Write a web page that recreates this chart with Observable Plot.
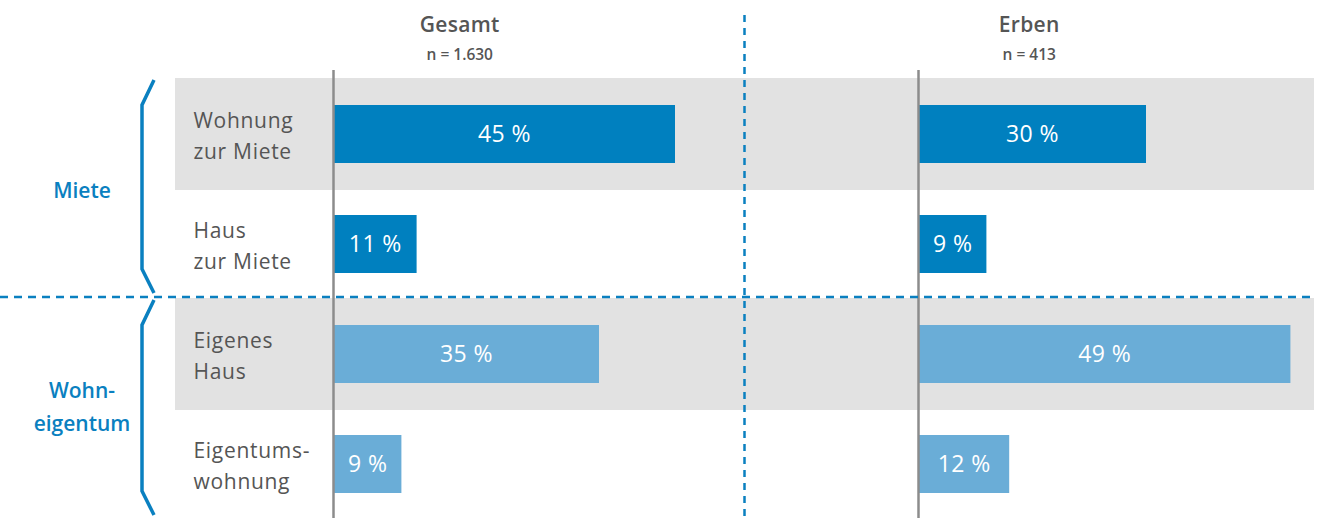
<!DOCTYPE html>
<html><head><meta charset="utf-8">
<script src="https://cdn.jsdelivr.net/npm/d3@7"></script>
<script src="https://cdn.jsdelivr.net/npm/@observablehq/plot@0.6"></script>
<style>
body{margin:0;background:#fff;}
#chart{position:relative;width:1319px;height:519px;}
#chart svg{overflow:visible;}
</style>
</head><body><div id="chart"></div>
<script>
// ---- data ----
const panels = ["Gesamt", "Erben"];
const panelNotes = ["n = 1.630", "n = 413"];
const categories = ["Wohnung zur Miete", "Haus zur Miete", "Eigenes Haus", "Eigentumswohnung"];
const categoryLabels = ["Wohnung\nzur Miete", "Haus\nzur Miete", "Eigenes\nHaus", "Eigentums-\nwohnung"];
const categoryGroups = ["Miete", "Miete", "Wohneigentum", "Wohneigentum"];
const groups = ["Miete", "Wohneigentum"];
const groupLabels = ["Miete", "Wohn-\neigentum"];
const gesamtValues = [45, 11, 35, 9];
const erbenValues = [30, 9, 49, 12];

const seriesByPanel = {Gesamt: gesamtValues, Erben: erbenValues};
const data = [];
panels.forEach(p => categories.forEach((c, ci) => data.push({
  panel: p, category: c, group: categoryGroups[ci], value: seriesByPanel[p][ci]
})));

// ---- layout ----
const W = 1319, H = 519;
const mL = 333, mR = 21, mT = 78, mB = 1;
const step = 585, bandW = 380;
const dark = "#0080bf", light = "#6aadd7", blue = "#0a80c0", grey = "#e2e2e2", textCol = "#555";
const font = "'Open Sans', sans-serif";

const chart = Plot.plot({
  width: W, height: H,
  marginLeft: mL, marginRight: mR, marginTop: mT, marginBottom: mB,
  style: {fontFamily: font, background: "transparent", color: textCol, overflow: "visible"},
  fx: {domain: panels, paddingInner: 1 - bandW / step, paddingOuter: 0, axis: null, label: null},
  x: {domain: [0, 50], axis: null},
  y: {domain: categories, padding: 0, label: null},
  color: {domain: groups, range: [dark, light]},
  marks: [
    Plot.barX(data, {fx: "panel", y: "category", x: "value", fill: "group", insetTop: 27, insetBottom: 25}),
    Plot.ruleX([0], {stroke: "#8c8c8c", strokeWidth: 2.5, insetTop: -8}),
    Plot.text(data, {fx: "panel", y: "category", x: d => d.value / 2, text: d => `${d.value} %`,
      fill: "white", fontSize: 23, dy: 1}),
    Plot.axisY({anchor: "left", tickSize: 0, tickPadding: 0, dx: -140, textAnchor: "start",
      tickFormat: c => categoryLabels[categories.indexOf(c)], fontSize: 21, lineHeight: 1.5,
      fill: textCol, label: null})
  ]
});
document.getElementById("chart").appendChild(chart);

// ---- decorations ----
const svg = d3.select(chart);
svg.selectAll('g[aria-label="y-axis tick label"] text').attr("letter-spacing", 0.7);
svg.selectAll('g[aria-label="text"] text').attr("letter-spacing", 0.4);
const ys = chart.scale("y");
const bw = ys.bandwidth;
const secL = 175, secR = 1314, mid = (secL + secR) / 2;

const back = svg.insert("g", ":first-child");
categories.forEach((c, i) => {
  if (i % 2 === 0) back.append("rect").attr("x", secL).attr("width", secR - secL)
    .attr("y", ys.apply(c)).attr("height", bw + 2).attr("fill", grey);
});

const front = svg.append("g");
// horizontal dashed divider between groups
const divY = ys.apply(categories[2]) - 1;
front.append("line").attr("x1", 0).attr("x2", secR).attr("y1", divY).attr("y2", divY)
  .attr("stroke", blue).attr("stroke-width", 2.5).attr("stroke-dasharray", "8,6");
// vertical dashed divider between panels
front.append("line").attr("x1", mid).attr("x2", mid).attr("y1", 15).attr("y2", H)
  .attr("stroke", blue).attr("stroke-width", 2.5).attr("stroke-dasharray", "7,6");

// panel titles
panels.forEach((p, i) => {
  const cx = i === 0 ? (secL + mid) / 2 : (mid + secR) / 2;
  front.append("text").attr("x", cx).attr("y", 32).attr("text-anchor", "middle")
    .attr("font-family", font).attr("font-size", 21).attr("font-weight", 600)
    .attr("letter-spacing", 0.3).attr("fill", textCol).text(p);
  front.append("text").attr("x", cx).attr("y", 60).attr("text-anchor", "middle")
    .attr("font-family", font).attr("font-size", 15.5).attr("font-weight", 600)
    .attr("fill", textCol).text(panelNotes[i]);
});

// group braces and labels
groups.forEach((g, gi) => {
  const cats = categories.filter((c, i) => categoryGroups[i] === g);
  const top = ys.apply(cats[0]) + 2;
  const bot = ys.apply(cats[cats.length - 1]) + bw - (gi === 0 ? 5 : 3);
  const xo = 154, xi = 142;
  front.append("path")
    .attr("d", `M${xo},${top}L${xi},${top + 25}L${xi},${bot - 24}L${xo},${bot}`)
    .attr("fill", "none").attr("stroke", blue).attr("stroke-width", 3.5);
  const lines = groupLabels[gi].split("\n");
  const cy = (top + bot) / 2 + (lines.length === 1 ? 4 : 0);
  const lh = 33;
  lines.forEach((t, li) => {
    front.append("text").attr("x", 82).attr("y", cy + 7 + (li - (lines.length - 1) / 2) * lh)
      .attr("text-anchor", "middle").attr("font-family", font).attr("font-size", 21)
      .attr("font-weight", 600).attr("fill", blue).text(t);
  });
});
</script>
</body></html>
